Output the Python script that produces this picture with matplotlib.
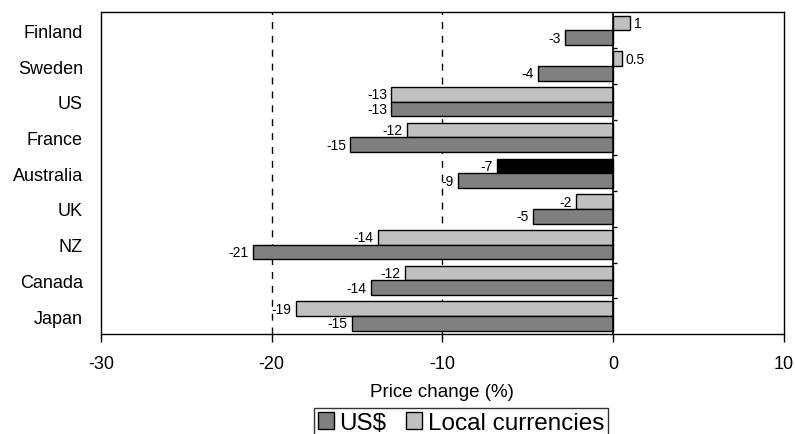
import matplotlib
matplotlib.use("Agg")
import matplotlib.pyplot as plt
from matplotlib.patches import Patch
import numpy as np

plt.rcParams['font.family'] = ['Liberation Sans', 'DejaVu Sans']

countries = ["Finland", "Sweden", "US", "France", "Australia", "UK", "NZ", "Canada", "Japan"]
usd = [-2.8, -4.4, -13.0, -15.4, -9.1, -4.7, -21.1, -14.2, -15.3]
local = [1.0, 0.5, -13.0, -12.1, -6.8, -2.2, -13.8, -12.2, -18.6]

usd_color = "#808080"
local_color = "#c0c0c0"
highlight = "Australia"

fig = plt.figure(figsize=(7.95, 4.35), dpi=100)
ax = fig.add_axes([0.127, 0.230, 0.859, 0.739])

n = len(countries)
ypos = np.arange(n)[::-1]
h = 0.41
off = 0.205

local_colors = ["black" if c == highlight else local_color for c in countries]
ax.barh(ypos + off, local, height=h, color=local_colors, edgecolor="black", linewidth=1.0, zorder=3)
ax.barh(ypos - off, usd, height=h, color=usd_color, edgecolor="black", linewidth=1.0, zorder=3)


def fmt(v):
    if abs(v) < 1 and v != 0:
        return f"{v:.1f}"
    return f"{v:.0f}"


def label_bars(values, yvals):
    for y, v in zip(yvals, values):
        ax.annotate(fmt(v), (v, y), xytext=(3 if v > 0 else -3, 0), textcoords="offset points",
                    ha="left" if v > 0 else "right", va="center", fontsize=10, zorder=4)


label_bars(local, ypos + off)
label_bars(usd, ypos - off)

ax.set_xlim(-30, 10)
ax.set_ylim(-0.5, n - 0.5)
ax.set_xticks([-30, -20, -10, 0, 10])
ax.set_xticklabels(["-30", "-20", "-10", "0", "10"])
ax.tick_params(axis="x", direction="out", length=6, width=1, labelsize=13, pad=9)
ax.set_yticks(ypos)
ax.set_yticklabels(countries)
ax.tick_params(axis="y", length=0, labelsize=13, pad=13)

# dashed reference lines
for xv in (-20, -10):
    ax.axvline(xv, color="black", linestyle=(0, (5, 5)), linewidth=1.0, zorder=1)
ax.axvline(0, color="black", linewidth=1.2, zorder=5)

# category separators on the zero axis
bounds = np.arange(n - 1) + 0.5
ax.hlines(bounds, 0, 0.25, color="black", linewidth=1.0, zorder=5)

for s in ax.spines.values():
    s.set_linewidth(1.0)
    s.set_color("black")

ax.set_xlabel("Price change (%)", fontsize=13.5, labelpad=8)

handles = [Patch(facecolor=usd_color, edgecolor="black", linewidth=1.0, label="US$"),
           Patch(facecolor=local_color, edgecolor="black", linewidth=1.0, label="Local currencies")]
leg = fig.legend(handles=handles, loc="center", bbox_to_anchor=(461 / 795, 1 - 424 / 435), ncol=2,
                 fontsize=17.5, frameon=True, fancybox=False, handlelength=0.65, handleheight=0.65,
                 handletextpad=0.25, columnspacing=0.8, borderpad=0.15, borderaxespad=0)
leg.get_frame().set_edgecolor("black")
leg.get_frame().set_linewidth(1.0)

fig.savefig("out.png", dpi=100)
